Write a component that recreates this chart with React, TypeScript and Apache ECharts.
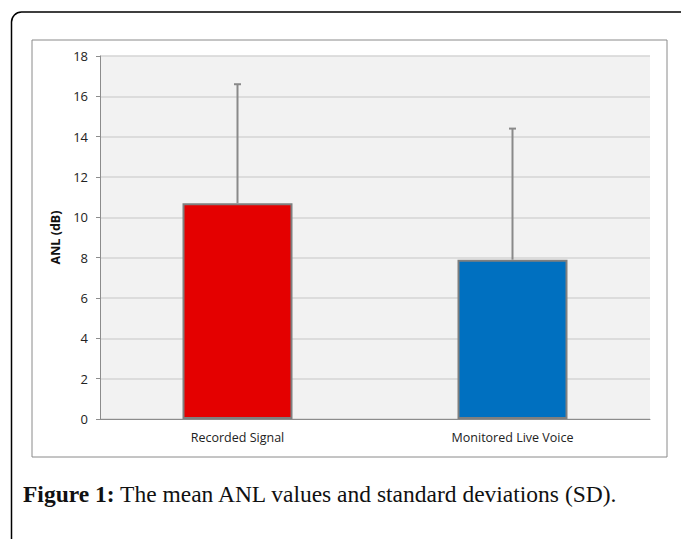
import React, { useEffect, useRef } from "react";
import * as echarts from "echarts";

const categories = ["Recorded Signal", "Monitored Live Voice"];
const means = [10.7, 7.9];
const sdTops = [16.6, 14.4];
const barColors = ["#e40000", "#0070c0"];
const yTicks = { min: 0, max: 18, interval: 2 };

export default function App() {
  const ref = useRef<HTMLDivElement>(null);
  useEffect(() => {
    document.body.style.margin = "0";
    const chart = echarts.init(ref.current!, null, { renderer: "svg" });
    chart.setOption({
      animation: false,
      backgroundColor: "#ffffff",
      grid: {
        left: 100,
        right: 31,
        top: 56,
        bottom: 120,
        show: true,
        backgroundColor: "#f2f2f2",
        borderWidth: 0,
      },
      xAxis: {
        type: "category",
        data: categories,
        axisLine: { lineStyle: { color: "#8c8c8c", width: 1 } },
        axisTick: { show: false },
        axisLabel: { color: "#222", fontFamily: "Open Sans", fontSize: 12.5, margin: 12 },
      },
      yAxis: {
        type: "value",
        min: yTicks.min,
        max: yTicks.max,
        interval: yTicks.interval,
        name: "ANL (dB)",
        nameLocation: "middle",
        nameRotate: 90,
        nameGap: 38,
        nameTextStyle: { fontFamily: "Open Sans", fontWeight: "bold", fontSize: 12.5, color: "#111" },
        axisLine: { show: true, lineStyle: { color: "#8c8c8c", width: 1 } },
        axisTick: { show: true, length: 4, lineStyle: { color: "#8c8c8c" } },
        axisLabel: { color: "#222", fontFamily: "Open Sans", fontSize: 13, margin: 12 },
        splitLine: { lineStyle: { color: "#d4d4d4", width: 1.5 } },
      },
      series: [
        {
          type: "bar",
          barWidth: "40%",
          data: means.map((v, i) => ({
            value: v,
            itemStyle: { color: barColors[i], borderColor: "#7f7f7f", borderWidth: 2 },
          })),
          z: 2,
        },
        {
          type: "custom",
          z: 3,
          data: means.map((m, i) => [i, m, sdTops[i]]),
          renderItem: (params: any, api: any) => {
            const p0 = api.coord([api.value(0), api.value(1)]);
            const p1 = api.coord([api.value(0), api.value(2)]);
            const style = { stroke: "#8a8a8a", lineWidth: 2 };
            return {
              type: "group",
              children: [
                { type: "line", shape: { x1: p0[0], y1: p0[1], x2: p1[0], y2: p1[1] }, style },
                { type: "line", shape: { x1: p1[0] - 3.5, y1: p1[1], x2: p1[0] + 3.5, y2: p1[1] }, style },
              ],
            };
          },
        },
      ],
      graphic: [
        {
          type: "rect",
          shape: { x: 11.5, y: 12, width: 720, height: 600, r: 10 },
          style: { fill: "none", stroke: "#000", lineWidth: 1.5 },
          z: 0,
        },
        {
          type: "rect",
          shape: { x: 32, y: 40, width: 635, height: 417 },
          style: { fill: "none", stroke: "#8a8a8a", lineWidth: 1 },
          z: 0,
        },
        {
          type: "text",
          x: 23,
          y: 494,
          style: {
            text: "{b|Figure 1:} The mean ANL values and standard deviations (SD).",
            fontFamily: "Liberation Serif",
            fontSize: 23.5,
            fill: "#111",
            verticalAlign: "middle",
            rich: { b: { fontWeight: "bold", fontFamily: "Liberation Serif", fontSize: 23.5 } },
          },
        },
      ],
    });
    return () => chart.dispose();
  }, []);
  return <div ref={ref} style={{ position: "fixed", left: 0, top: 0, width: 681, height: 539 }} />;
}
